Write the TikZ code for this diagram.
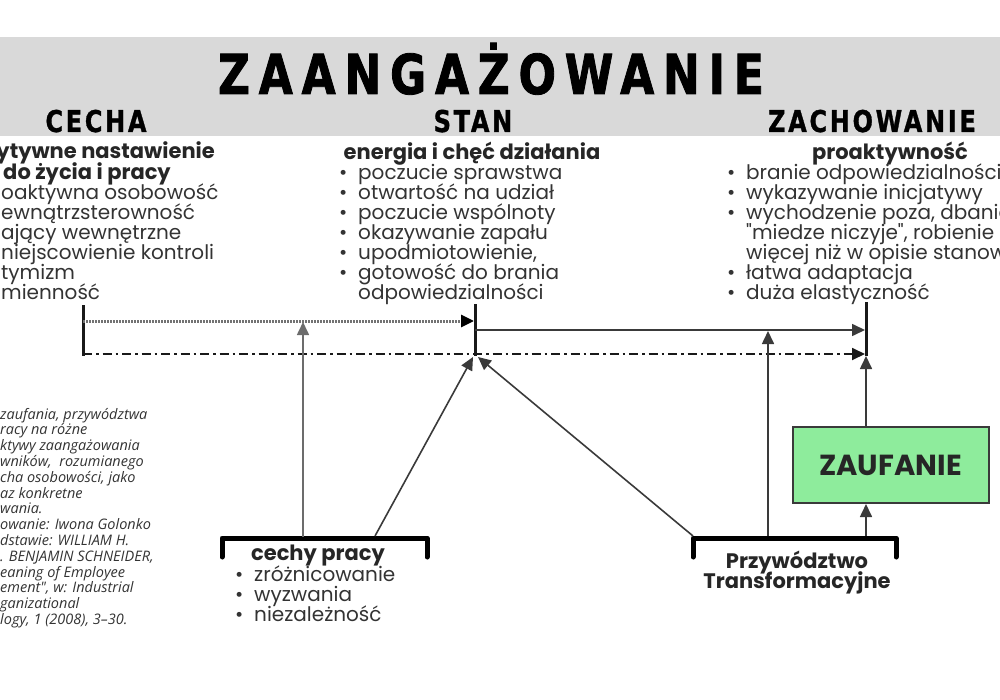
\documentclass[tikz,border=0pt]{standalone}
\usepackage{fontspec}
\setmainfont{Poppins}
\newfontfamily\titlefont[FakeStretch=0.8,LetterSpace=16,FakeBold=1.5]{DejaVu Sans}
\newfontfamily\headfont[FakeStretch=0.8,LetterSpace=9,FakeBold=1]{DejaVu Sans}
\newfontfamily\notefont{Open Sans}
\usetikzlibrary{arrows.meta}
\definecolor{band}{HTML}{D9D9D9}
\definecolor{ink}{HTML}{333333}
\definecolor{lin}{HTML}{3A3A3A}
\definecolor{zgreen}{HTML}{8EEC9C}
\newcommand{\bl}{\makebox[19pt][l]{\textbullet}}
\newcommand{\ind}{\hspace*{19pt}}
\newcommand{\rw}[1]{\smash{#1}}
\newcommand{\lst}[1]{\begin{tabular}[t]{@{}l@{}}#1\end{tabular}}
\newcommand{\clst}[1]{\begin{tabular}[t]{@{}c@{}}#1\end{tabular}}
\begin{document}
\begin{tikzpicture}[x=1pt,y=-1pt,
  txt/.style={inner sep=0pt, text=ink, font=\fontsize{20}{20}\selectfont},
  bold/.style={inner sep=0pt, text=black!85, font=\fontsize{21}{20}\selectfont\bfseries},
  head/.style={inner sep=0pt, font=\headfont\bfseries\fontsize{30}{30}\selectfont},
  note/.style={inner sep=0pt, text=ink, font=\notefont\itshape\fontsize{14.5}{15.8}\selectfont},
  conn/.style={draw=lin, line width=1.6pt, -{Triangle[length=13pt,width=12pt]}},
  bar/.style={draw=black!90, line width=3pt},
  brack/.style={draw=black, line width=5pt, line cap=round, line join=round},
]
\useasboundingbox (0,0) rectangle (1000,700);
\fill[band] (0,37) rectangle (1000,136);

% headings
\node[inner sep=0pt, font=\titlefont\bfseries\fontsize{55}{55}\selectfont, anchor=base] (title) at (491,94) {ZAANGAŻOWANIE};
\node[head, anchor=base] (hcecha) at (96,132) {CECHA};
\node[head, anchor=base] (hstan) at (473,132) {STAN};
\node[head, anchor=base] (hzach) at (872,132) {ZACHOWANIE};

% left block (cut by the left edge)
\node[bold, anchor=base east] (l1) at (215,159) {ytywne nastawienie};
\node[bold, anchor=base] (l2) at (87,180) {do życia i pracy};
\node[txt, anchor=base west] (l3) at (1,200) {\lst{\rw{oaktywna osobowość}\\ \rw{ewnątrzsterowność}\\ \rw{ający wewnętrzne}\\ \rw{niejscowienie kontroli}\\ \rw{tymizm}\\ \rw{mienność}}};

% centre block
\node[bold, anchor=base] (ctitle) at (472,160) {energia i chęć działania};
\node[txt, anchor=base west] (clist) at (339,180) {\lst{\rw{\bl poczucie sprawstwa}\\ \rw{\bl otwartość na udział}\\ \rw{\bl poczucie wspólnoty}\\ \rw{\bl okazywanie zapału}\\ \rw{\bl upodmiotowienie,}\\ \rw{\bl gotowość do brania}\\ \rw{\ind odpowiedzialności}}};

% right block
\node[bold, anchor=base] (rtitle) at (890,160) {proaktywność};
\node[txt, anchor=base west] (rlist) at (727,180) {\lst{\rw{\bl branie odpowiedzialności}\\ \rw{\bl wykazywanie inicjatywy}\\ \rw{\bl wychodzenie poza, dbanie}\\ \rw{\ind \textquotedbl miedze niczyje\textquotedbl, robienie}\\ \rw{\ind więcej niż w opisie stanowiska}\\ \rw{\bl łatwa adaptacja}\\ \rw{\bl duża elastyczność}}};

% note
\node[note, anchor=base west] (note) at (0,419) {\lst{\rw{zaufania, przywództwa}\\ \rw{racy na różne}\\ \rw{ktywy zaangażowania}\\ \rw{wników,\ \ rozumianego}\\ \rw{cha osobowości, jako}\\ \rw{az konkretne}\\ \rw{wania.}\\ \rw{owanie: Iwona Golonko}\\ \rw{dstawie: WILLIAM H.}\\ \rw{. BENJAMIN SCHNEIDER,}\\ \rw{eaning of Employee}\\ \rw{ement\textquotedbl, w: Industrial}\\ \rw{ganizational}\\ \rw{logy, 1 (2008), 3–30.}}};

% bottom blocks
\node[bold, anchor=base] (cptitle) at (318,560) {cechy pracy};
\node[txt, anchor=base west] (cplist) at (235,581) {\lst{\rw{\bl zróżnicowanie}\\ \rw{\bl wyzwania}\\ \rw{\bl niezależność}}};
\node[bold, anchor=base] (tl) at (797,568) {\clst{\rw{Przywództwo}\\ \rw{Transformacyjne}}};

\node[draw=lin, line width=2pt, fill=zgreen, minimum width=196pt, minimum height=76pt, inner sep=0pt,
      font=\fontsize{29}{29}\selectfont\bfseries, text=black!85] (zauf) at (890.5,465) {ZAUFANIE};

% bars and brackets
\coordinate (bL1) at (83,305); \coordinate (bL2) at (83,356);
\coordinate (bC1) at (475,304); \coordinate (bC2) at (475,356);
\coordinate (bR1) at (866,302); \coordinate (bR2) at (866,356);
\draw[bar] (bL1) -- (bL2);
\draw[bar] (bC1) -- (bC2);
\draw[bar] (bR1) -- (bR2);

\coordinate (cpA) at (222,557); \coordinate (cpB) at (427,557);
\coordinate (tlA) at (693,557); \coordinate (tlB) at (896,557);
\draw[brack] (cpA) -- (222,538) -- (427,538) -- (cpB);
\draw[brack] (tlA) -- (693,538) -- (896,538) -- (tlB);

% horizontal connectors
\draw[draw=black!55, line width=3pt, dash pattern=on 1.5pt off 1.5pt, -{Triangle[length=13pt,width=12pt,fill=black,color=black]}] (83,321) -- (474,321);
\draw[draw=black!90, line width=1.8pt, dash pattern=on 9pt off 4pt on 2.5pt off 4pt, -{Triangle[length=13pt,width=12pt]}] (83,354) -- (865,354);
\draw[conn] (475,330) -- (865,330);

% connectors from the bottom
\coordinate (tlZ) at (866,536);
\draw[conn, draw=gray!85!black] (303,537) -- (303,322);
\draw[conn] (375,536) -- (473,357);
\draw[conn] (693,536) -- (478,357);
\draw[conn] (768,536) -- (768,331);
\draw[conn] (tlZ) -- (tlZ |- zauf.south);
\draw[conn] (bR2 |- zauf.north) -- (bR2);
\end{tikzpicture}
\end{document}
